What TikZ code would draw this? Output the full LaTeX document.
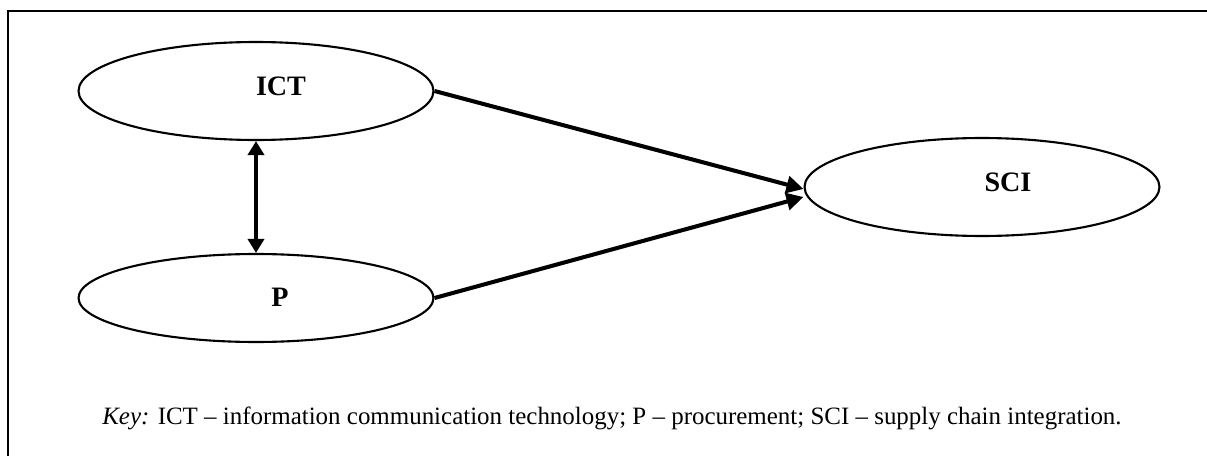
\documentclass[tikz,border=0pt]{standalone}
\usepackage{fontspec}
\setmainfont{Liberation Serif}
\usetikzlibrary{shapes.geometric,arrows.meta,calc}

\begin{document}
\begin{tikzpicture}[x=0.02cm,y=-0.02cm,
    construct/.style={ellipse,draw,line width=1.2pt,minimum width=7.1cm,minimum height=1.96cm,inner sep=0},
    lbl/.style={font=\fontsize{16}{18}\selectfont\bfseries,inner sep=0},
    link/.style={line width=2.3pt,-{Triangle[length=0.34cm,width=0.34cm]}}]
    \useasboundingbox (0,0) rectangle (1207,456);
    \draw[line width=1.6pt] (8,470) -- (8,11) -- (1220,11);
    % constructs
    \node[construct] (ict) at (256,91) {};
    \node[construct,minimum height=1.76cm] (p) at (256,298) {};
    \node[construct] (sci) at (982,187) {};
    \node[lbl] (ictlbl) at (281,86) {ICT};
    \node[lbl] (plbl) at (280,297) {P};
    \node[lbl] (scilbl) at (1008,182) {SCI};
    % paths
    \coordinate (tipa) at ($(sci.west)+(0,2)$);
    \coordinate (tipb) at ($(sci.west)+(0,10)$);
    \draw[link] (ict.east) -- (tipa);
    \draw[link] (p.east) -- (tipb);
    \draw[link,{Triangle[length=0.28cm,width=0.32cm]}-{Triangle[length=0.28cm,width=0.32cm]}] (ict.south) -- (p.north);
    \node[anchor=west,font=\fontsize{14.2}{16}\selectfont,inner sep=0] (key) at (102,418) {\textit{Key:} ICT -- information communication technology; P -- procurement; SCI -- supply chain integration.};
\end{tikzpicture}
\end{document}
